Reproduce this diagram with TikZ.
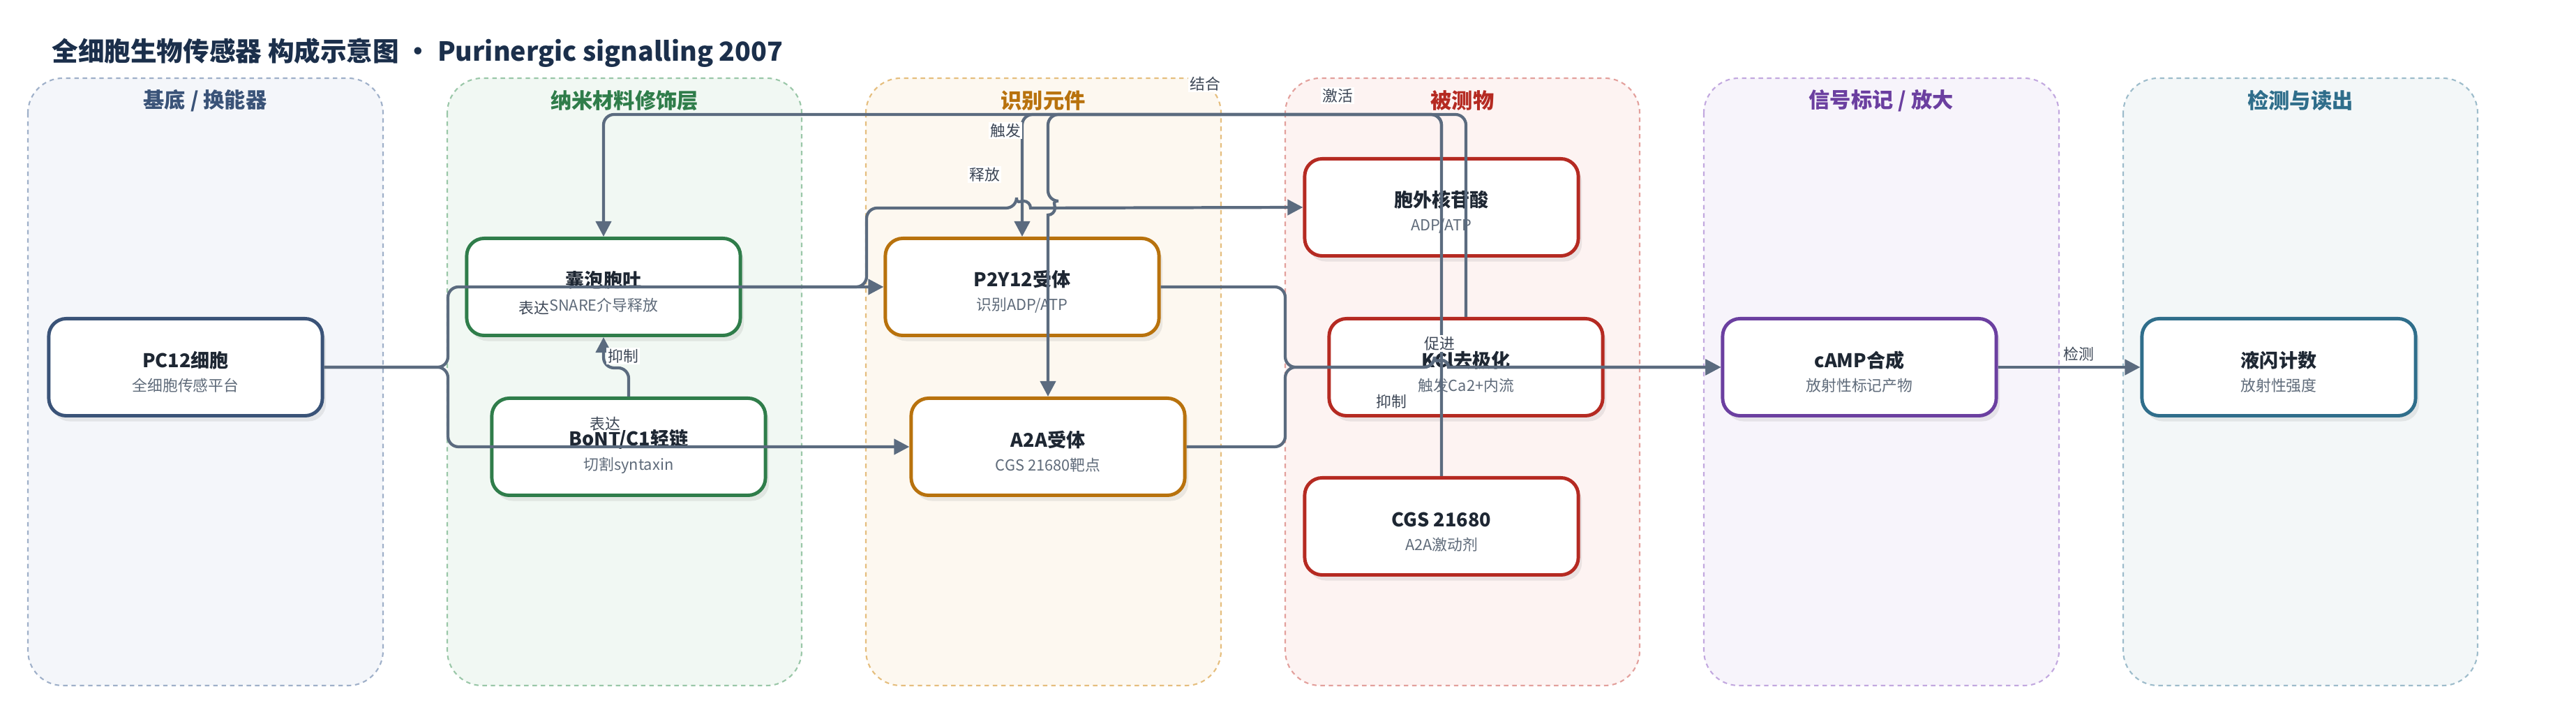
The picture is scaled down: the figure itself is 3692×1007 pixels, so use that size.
\documentclass[tikz,border=0pt]{standalone}
\usepackage{fontspec}
\setmainfont{Noto Sans CJK SC}
\usetikzlibrary{arrows.meta,shadows}

\definecolor{edgec}{HTML}{5B6B7F}
\definecolor{titlec}{HTML}{1B2F4B}
\definecolor{namec}{HTML}{1E2733}
\definecolor{subc}{HTML}{5F6B7A}
\definecolor{lblc}{HTML}{3C4655}
% lane colours: border, fill, accent
\definecolor{baseb}{HTML}{9FB0C9}\definecolor{basef}{HTML}{F4F6FA}\definecolor{basea}{HTML}{3A5378}
\definecolor{nanob}{HTML}{9AC7A8}\definecolor{nanof}{HTML}{F1F8F3}\definecolor{nanoa}{HTML}{2F7D4A}
\definecolor{recb}{HTML}{E5BE7E}\definecolor{recf}{HTML}{FDF8F0}\definecolor{reca}{HTML}{B8720D}
\definecolor{anab}{HTML}{E3A09C}\definecolor{anaf}{HTML}{FDF3F2}\definecolor{anaa}{HTML}{B52A22}
\definecolor{sigb}{HTML}{C2A8DF}\definecolor{sigf}{HTML}{F7F4FB}\definecolor{siga}{HTML}{6B3FA0}
\definecolor{detb}{HTML}{9DBCCB}\definecolor{detf}{HTML}{F3F7F8}\definecolor{deta}{HTML}{2F6E8B}

\newcommand{\boxtext}[2]{{\fontsize{7.7}{9}\selectfont\bfseries\color{namec}\rule{0pt}{10.5pt}#1}\\[-2.2pt]{\fontsize{6.2}{8}\selectfont\color{subc}#2}}

\begin{document}
\begin{tikzpicture}[x=0.01cm,y=-0.01cm,
    lane/.style 2 args={draw=#1,fill=#2,line width=0.6pt,dash pattern=on 1.8pt off 1.6pt,rounded corners=5mm},
    lanetitle/.style={font=\fontsize{8.6}{10}\selectfont\bfseries,text=#1},
    block/.style={draw=#1,fill=white,line width=1.4pt,rounded corners=2.5mm,
        minimum width=3.92cm,minimum height=1.39cm,align=center,
        drop shadow={opacity=0.15,shadow xshift=0.5mm,shadow yshift=-0.8mm}},
    flow/.style={draw=edgec,line width=1.2pt,rounded corners=1.5mm,-{Triangle[length=2.2mm,width=2.2mm]}},
    lbl/.style={font=\fontsize{6.2}{7}\selectfont,text=lblc,fill=white,inner sep=0.6pt}
  ]
  \useasboundingbox (0,0) rectangle (3692,1007);

  \node[anchor=west,font=\fontsize{10.7}{12}\selectfont\bfseries,text=titlec] (title) at (62,76)
    {全细胞生物传感器 构成示意图 • Purinergic signalling 2007};

  % lanes
  \draw[lane={baseb}{basef}] (40,112) rectangle (549,982);
  \draw[lane={nanob}{nanof}] (641,112) rectangle (1149,982);
  \draw[lane={recb}{recf}] (1241,112) rectangle (1750,982);
  \draw[lane={anab}{anaf}] (1842,112) rectangle (2350,982);
  \draw[lane={sigb}{sigf}] (2442,112) rectangle (2951,982);
  \draw[lane={detb}{detf}] (3043,112) rectangle (3551,982);

  \node[lanetitle=basea] (t-base) at (294,144) {基底 / 换能器};
  \node[lanetitle=nanoa] (t-nano) at (895,144) {纳米材料修饰层};
  \node[lanetitle=reca] (t-rec) at (1495,144) {识别元件};
  \node[lanetitle=anaa] (t-ana) at (2096,144) {被测物};
  \node[lanetitle=siga] (t-sig) at (2696,144) {信号标记 / 放大};
  \node[lanetitle=deta] (t-det) at (3297,144) {检测与读出};

  % components
  \node[block=basea] (pc12) at (266,526) {\boxtext{PC12细胞}{全细胞传感平台}};
  \node[block=nanoa] (exo) at (865,411) {\boxtext{囊泡胞吐}{SNARE介导释放}};
  \node[block=nanoa] (bont) at (901,640) {\boxtext{BoNT/C1轻链}{切割syntaxin}};
  \node[block=reca] (p2y12) at (1465,411) {\boxtext{P2Y12受体}{识别ADP/ATP}};
  \node[block=reca] (a2a) at (1502,640) {\boxtext{A2A受体}{CGS 21680靶点}};
  \node[block=anaa] (atp) at (2066,297) {\boxtext{胞外核苷酸}{ADP/ATP}};
  \node[block=anaa] (kcl) at (2101,526) {\boxtext{KCl去极化}{触发Ca2+内流}};
  \node[block=anaa] (cgs) at (2066,754) {\boxtext{CGS 21680}{A2A激动剂}};
  \node[block=siga] (camp) at (2665,526) {\boxtext{cAMP合成}{放射性标记产物}};
  \node[block=deta] (lsc) at (3266,526) {\boxtext{液闪计数}{放射性强度}};

  % connectors
  \draw[flow] (pc12.east) -- (642,526) |- (p2y12.west);
  \draw[flow] (pc12.east) -- (642,526) |- (a2a.west);
  \draw[flow] (exo.east) -- (1242,411) -- (1242,298) -- (1457,298)
    [sharp corners] arc[start angle=180,end angle=360,radius=10] [rounded corners=1.5mm] -- (atp.west);
  \draw[flow] (atp.north) -- (2066,164) -| (p2y12.north);
  \draw[flow] (cgs.north) -- (2066,164) -- (1502,164) -- (1502,288)
    [sharp corners] arc[start angle=270,end angle=450,radius=10] [rounded corners=1.5mm] -- (a2a.north);
  \draw[flow] (kcl.north) -- (2101,164) -| (exo.north);
  \draw[flow] (bont.north) -- (901,527) -- (865,527) -- (exo.south);
  \draw[flow] (p2y12.east) -- (1842,411) -- (1842,526) -- (2056,526)
    [sharp corners] arc[start angle=180,end angle=360,radius=10] [rounded corners=1.5mm] -- (camp.west);
  \draw[flow] (a2a.east) -- (1842,640) -- (1842,526) -- (2056,526)
    [sharp corners] arc[start angle=180,end angle=360,radius=10] [rounded corners=1.5mm] -- (camp.west);
  \draw[flow] (camp.east) -- (lsc.west);

  % connector labels
  \node[lbl] (l-bind) at (1727,120) {结合};
  \node[lbl] (l-act) at (1917,137) {激活};
  \node[lbl] (l-trig) at (1441,187) {触发};
  \node[lbl] (l-rel) at (1411,250) {释放};
  \node[lbl] (l-exp1) at (765,441) {表达};
  \node[lbl] (l-inh1) at (893,510) {抑制};
  \node[lbl] (l-exp2) at (867,607) {表达};
  \node[lbl] (l-pro) at (2063,492) {促进};
  \node[lbl] (l-inh2) at (1994,575) {抑制};
  \node[lbl] (l-det) at (2979,507) {检测};
\end{tikzpicture}
\end{document}
